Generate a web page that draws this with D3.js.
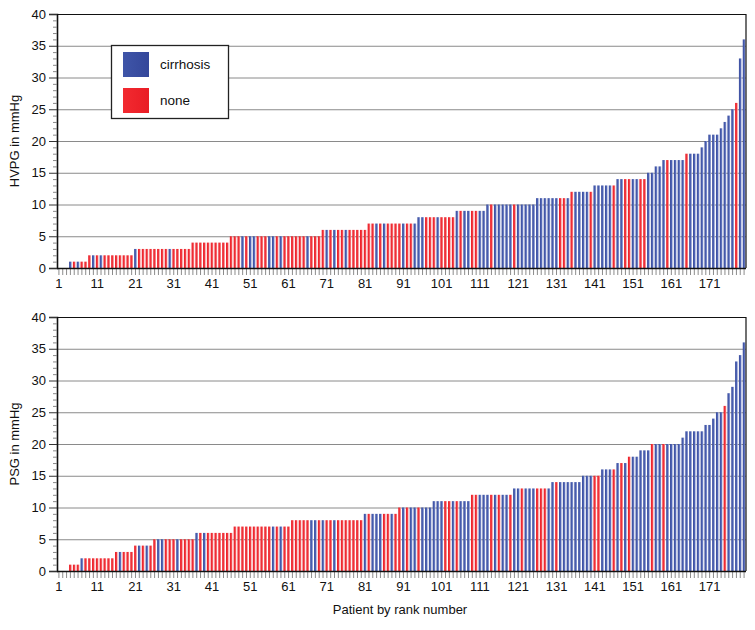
<!DOCTYPE html>
<html>
<head>
<meta charset="utf-8">
<script src="https://cdn.jsdelivr.net/npm/d3@7/dist/d3.min.js"></script>
<style>
  html, body { margin: 0; padding: 0; background: #fff; }
  svg { display: block; font-family: "Liberation Sans", Arial, Helvetica, sans-serif; }
</style>
</head>
<body>
<svg id="chart" width="755" height="630"></svg>
<script>
// ---------- DATA ----------
const categories = ["cirrhosis", "none"];
const categoryColors = ["#3b4fa0", "#ee1c25"];
const xTickLabels = [1, 11, 21, 31, 41, 51, 61, 71, 81, 91, 101, 111, 121, 131, 141, 151, 161, 171];
const yTickLabels = [0, 5, 10, 15, 20, 25, 30, 35, 40];

// HVPG (mmHg) by rank, patients 1..180
const hvpgValues = [
  0,0,0,1,1,1,1,1,2,2,
  2,2,2,2,2,2,2,2,2,2,
  3,3,3,3,3,3,3,3,3,3,
  3,3,3,3,3,4,4,4,4,4,
  4,4,4,4,4,5,5,5,5,5,
  5,5,5,5,5,5,5,5,5,5,
  5,5,5,5,5,5,5,5,5,6,
  6,6,6,6,6,6,6,6,6,6,
  6,7,7,7,7,7,7,7,7,7,
  7,7,7,7,8,8,8,8,8,8,
  8,8,8,8,9,9,9,9,9,9,
  9,9,10,10,10,10,10,10,10,10,
  10,10,10,10,10,11,11,11,11,11,
  11,11,11,11,12,12,12,12,12,12,
  13,13,13,13,13,13,14,14,14,14,
  14,14,14,14,15,15,16,16,17,17,
  17,17,17,17,18,18,18,18,19,20,
  21,21,21,22,23,24,25,26,33,36
];
// C = cirrhosis, N = none
const hvpgGroups = [
  "N","N","N","C","N","C","N","N","N","C",
  "N","C","N","N","N","N","N","N","N","N",
  "C","N","N","N","N","N","N","N","N","C",
  "N","N","N","N","N","N","N","N","N","N",
  "N","N","N","N","N","N","N","N","C","N",
  "C","C","N","N","N","C","C","N","C","N",
  "N","N","N","N","N","C","N","N","N","N",
  "C","N","C","N","N","C","N","N","N","N",
  "N","N","N","C","N","C","N","N","N","N",
  "C","N","N","C","C","C","N","N","N","C",
  "N","N","N","N","C","N","C","C","N","N",
  "C","C","C","N","C","C","C","C","C","N",
  "C","C","C","C","C","C","C","C","C","C",
  "C","N","N","C","N","C","C","C","C","N",
  "C","C","C","C","C","N","C","C","N","N",
  "C","C","N","N","C","C","C","C","C","N",
  "C","C","C","C","N","C","C","C","C","C",
  "C","C","C","C","C","C","C","N","C","C"
];

// PSG (mmHg) by rank, patients 1..180
const psgValues = [
  0,0,0,1,1,1,2,2,2,2,
  2,2,2,2,2,3,3,3,3,3,
  4,4,4,4,4,5,5,5,5,5,
  5,5,5,5,5,5,6,6,6,6,
  6,6,6,6,6,6,7,7,7,7,
  7,7,7,7,7,7,7,7,7,7,
  7,8,8,8,8,8,8,8,8,8,
  8,8,8,8,8,8,8,8,8,8,
  9,9,9,9,9,9,9,9,9,10,
  10,10,10,10,10,10,10,10,11,11,
  11,11,11,11,11,11,11,11,12,12,
  12,12,12,12,12,12,12,12,12,13,
  13,13,13,13,13,13,13,13,13,14,
  14,14,14,14,14,14,14,15,15,15,
  15,15,16,16,16,16,17,17,17,18,
  18,18,19,19,19,20,20,20,20,20,
  20,20,20,21,22,22,22,22,22,23,
  23,24,25,25,26,28,29,33,34,36
];
const psgGroups = [
  "N","N","N","N","N","N","C","N","N","N",
  "N","N","N","N","N","N","C","N","N","N",
  "N","C","N","C","N","N","C","C","N","N",
  "N","C","N","N","N","N","C","N","C","N",
  "N","N","N","N","N","N","N","N","N","N",
  "N","N","N","N","N","N","C","N","C","N",
  "N","N","N","N","N","N","C","C","N","C",
  "N","N","C","N","N","N","N","N","N","N",
  "C","N","C","C","C","N","N","C","N","N",
  "C","N","C","C","N","C","C","C","C","C",
  "C","N","N","C","N","C","C","C","N","N",
  "C","C","C","N","C","N","C","C","N","C",
  "C","N","C","C","C","N","N","N","C","C",
  "N","C","C","C","C","C","C","C","C","C",
  "N","N","C","C","C","N","C","N","C","N",
  "C","C","C","C","C","N","C","C","N","C",
  "C","C","C","C","C","C","C","C","C","C",
  "C","C","C","C","N","C","C","C","C","C"
];

const panels = [
  { title: "HVPG in mmHg", values: hvpgValues, groups: hvpgGroups, top: 14, bottom: 268 },
  { title: "PSG in mmHg", values: psgValues, groups: psgGroups, top: 317, bottom: 571 }
];

// ---------- DRAW ----------
const svg = d3.select("#chart");
const left = 57, right = 746;
const patients = d3.range(1, hvpgValues.length + 1);

const x = d3.scaleBand().domain(patients).range([left, right]).paddingInner(0.3).paddingOuter(0.15);
const color = d3.scaleOrdinal().domain(["C", "N"]).range(categoryColors);

// gradients for the glossy bar look
const defs = svg.append("defs");
const grads = [
  { id: "gC", stops: [["0%", "#3a4c9c"], ["55%", "#4a60b2"], ["100%", "#a7b2dc"]] },
  { id: "gN", stops: [["0%", "#ec1b24"], ["55%", "#f0353c"], ["100%", "#f8aaab"]] },
  { id: "lC", stops: [["0%", "#3f55a8"], ["100%", "#34479a"]] },
  { id: "lN", stops: [["0%", "#f22a30"], ["100%", "#e91c25"]] }
];
grads.forEach(g => {
  const lg = defs.append("linearGradient").attr("id", g.id)
    .attr("x1", "0%").attr("x2", "100%").attr("y1", "0%").attr("y2", "0%");
  g.stops.forEach(s => lg.append("stop").attr("offset", s[0]).attr("stop-color", s[1]));
});

panels.forEach(p => {
  const y = d3.scaleLinear().domain([0, 40]).range([p.bottom, p.top]);
  const g = svg.append("g");

  // gridlines
  g.append("g").selectAll("line").data(yTickLabels.filter(v => v > 0 && v < 40)).join("line")
    .attr("x1", left).attr("x2", right)
    .attr("y1", d => y(d) + 0.5).attr("y2", d => y(d) + 0.5)
    .attr("stroke", "#8a8a8a").attr("stroke-width", 1);

  // bars
  g.append("g").selectAll("rect").data(patients).join("rect")
    .attr("x", d => x(d))
    .attr("width", x.bandwidth())
    .attr("y", d => y(p.values[d - 1]))
    .attr("height", d => y(0) - y(p.values[d - 1]))
    .attr("fill", d => p.groups[d - 1] === "C" ? "url(#gC)" : "url(#gN)");

  // frame: top and right
  g.append("line").attr("x1", left).attr("x2", right).attr("y1", y(40) + 0.5).attr("y2", y(40) + 0.5)
    .attr("stroke", "#111").attr("stroke-width", 1.2);
  g.append("line").attr("x1", right).attr("x2", right).attr("y1", y(40)).attr("y2", y(0))
    .attr("stroke", "#111").attr("stroke-width", 1.2);

  // y axis
  const yAxis = g.append("g").attr("transform", `translate(${left},0)`)
    .call(d3.axisLeft(y).tickValues(yTickLabels).tickSize(8).tickPadding(3).tickFormat(d3.format("d")));
  yAxis.select(".domain").attr("stroke", "#111").attr("stroke-width", 1.6);
  yAxis.selectAll(".tick line").attr("stroke", "#333");
  yAxis.selectAll("text").attr("font-size", 13).attr("fill", "#111")
    .attr("font-family", "'Liberation Sans', Arial, sans-serif");
  // minor y ticks
  g.append("g").selectAll("line").data(d3.range(0, 41).filter(v => v % 5 !== 0)).join("line")
    .attr("x1", left - 4).attr("x2", left)
    .attr("y1", d => y(d) + 0.5).attr("y2", d => y(d) + 0.5)
    .attr("stroke", "#888");

  // x axis: minor ticks for each patient
  g.append("g").selectAll("line").data(patients).join("line")
    .attr("x1", d => x(d) + x.bandwidth() / 2).attr("x2", d => x(d) + x.bandwidth() / 2)
    .attr("y1", y(0)).attr("y2", y(0) + 7)
    .attr("stroke", "#8c8c8c").attr("stroke-width", 1);
  g.append("line").attr("x1", left).attr("x2", right).attr("y1", y(0) + 0.5).attr("y2", y(0) + 0.5)
    .attr("stroke", "#111").attr("stroke-width", 1.6);
  g.append("g").selectAll("text").data(xTickLabels).join("text")
    .attr("x", d => x(d) + x.bandwidth() / 2)
    .attr("y", y(0) + 20)
    .attr("text-anchor", "middle")
    .attr("font-size", 13).attr("fill", "#111")
    .text(d => d);

  // y title
  g.append("text")
    .attr("transform", `translate(19,${(p.top + p.bottom) / 2}) rotate(-90)`)
    .attr("text-anchor", "middle")
    .attr("font-size", 13).attr("fill", "#111")
    .text(p.title);
});

// x title
svg.append("text").attr("x", 400).attr("y", 614).attr("text-anchor", "middle")
  .attr("font-size", 13).attr("fill", "#111").text("Patient by rank number");

// legend
const lg = svg.append("g");
lg.append("rect").attr("x", 111.5).attr("y", 45.5).attr("width", 117).attr("height", 73)
  .attr("fill", "#fff").attr("stroke", "#222").attr("stroke-width", 1.3);
categories.forEach((c, i) => {
  lg.append("rect").attr("x", 123).attr("y", 52 + i * 36).attr("width", 26).attr("height", 25)
    .attr("fill", i === 0 ? "url(#lC)" : "url(#lN)");
  lg.append("text").attr("x", 160).attr("y", 69 + i * 36).attr("font-size", 13.5).attr("fill", "#111").text(c);
});
</script>
</body>
</html>
